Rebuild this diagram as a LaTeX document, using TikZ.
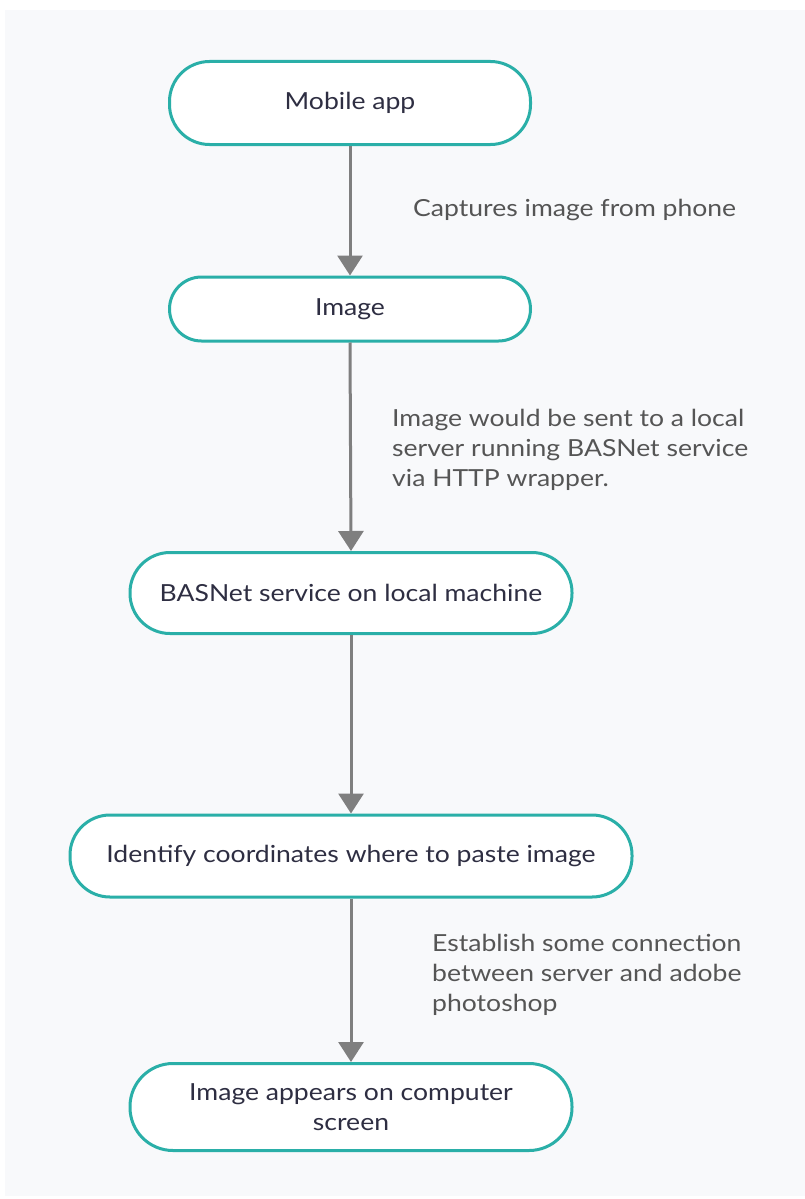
\documentclass[tikz,border=0pt]{standalone}
\usepackage{fontspec}
\setmainfont{Lato}[FakeStretch=1.13]
\usetikzlibrary{arrows.meta}
\definecolor{bg}{HTML}{F8F9FB}
\definecolor{teal}{HTML}{2AAFA8}
\definecolor{arrowgray}{HTML}{7F7F7F}
\definecolor{nodetext}{HTML}{2E2E42}
\definecolor{labeltext}{HTML}{555555}
\begin{document}
\begin{tikzpicture}[x=1pt,y=-1pt,
  flowbox/.style={draw=teal,line width=3pt,fill=white,rounded corners=40pt,
    align=center,font=\fontsize{23.5}{30}\selectfont,text=nodetext,inner sep=0pt},
  flowarrow/.style={draw=arrowgray,line width=3pt,-{Triangle[width=25pt,length=20pt]}},
  edgelabel/.style={anchor=west,align=left,font=\fontsize{23.5}{30}\selectfont,text=labeltext,inner sep=0pt}]
\useasboundingbox (0,0) rectangle (805,1199);
\fill[white] (0,0) rectangle (805,1199);
\fill[bg] (5,10) rectangle (805,1196);
\node[flowbox,minimum width=361pt,minimum height=83pt] (mob) at (350,103) {Mobile app};
\node[flowbox,minimum width=361pt,minimum height=64pt,rounded corners=32pt] (img) at (350,309) {Image};
\node[flowbox,minimum width=442pt,minimum height=81pt] (bas) at (351,593) {BASNet service on local machine};
\node[flowbox,minimum width=562pt,minimum height=82pt] (idc) at (351,856) {Identify coordinates where to paste image};
\node[flowbox,minimum width=442pt,minimum height=87pt,rounded corners=43pt] (app) at (351,1107) {Image appears on computer\\screen};
\draw[flowarrow] (mob.south) -- (img.north);
\draw[flowarrow] (img.south) -- (bas.north);
\draw[flowarrow] (bas.south) -- (idc.north);
\draw[flowarrow] (idc.south) -- (app.north);
\node[edgelabel] (l1) at (413,210) {Captures image from phone};
\node[edgelabel] (l2) at (392,450) {Image would be sent to a local\\server running BASNet service\\via HTTP wrapper.};
\node[edgelabel] (l3) at (432,975) {Establish some connection\\between server and adobe\\photoshop};
\end{tikzpicture}
\end{document}
